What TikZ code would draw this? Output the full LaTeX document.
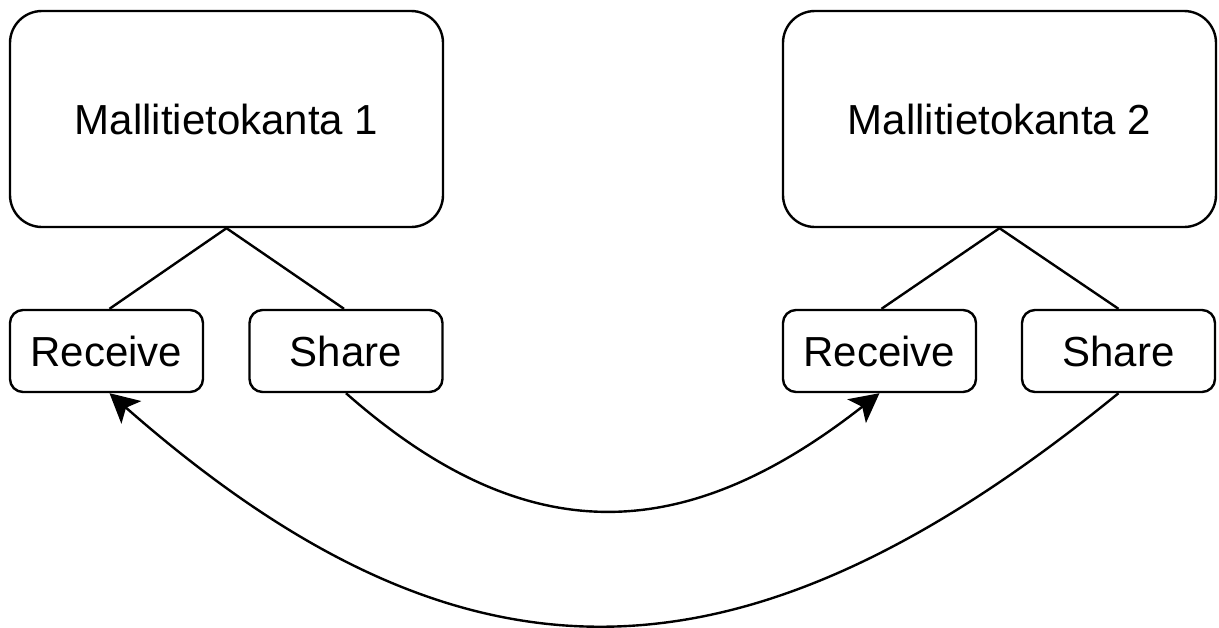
\documentclass[tikz,border=0pt]{standalone}
\usepackage{fontspec}
\setmainfont{Liberation Sans}
\usetikzlibrary{arrows.meta}
\begin{document}
\begin{tikzpicture}[x=1pt,y=-1pt,
  bigbox/.style={draw=black, line width=2.4pt, rounded corners=32pt, minimum width=433pt, minimum height=216pt, inner sep=0pt, font=\fontsize{42}{50}\selectfont},
  smallbox/.style={draw=black, line width=2.4pt, rounded corners=13pt, minimum width=193pt, minimum height=82pt, inner sep=0pt, font=\fontsize{42}{50}\selectfont},
  link/.style={draw=black, line width=2.4pt},
  arr/.style={draw=black, line width=2.4pt, -{Stealth[length=29pt, width=30pt, inset=7pt]}}
]
\useasboundingbox (0,0) rectangle (1219,627);
\node[bigbox] (m1) at (226.5,119) {Mallitietokanta 1};
\node[bigbox] (m2) at (999.5,119) {Mallitietokanta 2};
\node[smallbox] (r1) at (106.5,351) {Receive};
\node[smallbox] (s1) at (346,351) {Share};
\node[smallbox] (r2) at (879.5,351) {Receive};
\node[smallbox] (s2) at (1118.5,351) {Share};
\draw[link] (m1.south) -- ([xshift=3pt]r1.north);
\draw[link] (m1.south) -- ([xshift=-2pt]s1.north);
\draw[link] (m2.south) -- ([xshift=2pt]r2.north);
\draw[link] (m2.south) -- (s2.north);
\draw[arr] (s1.south) .. controls +(177,156) and +(-199,156) .. (r2.south);
\draw[arr] (s2.south) .. controls +(-379,309) and +(352,309) .. ([xshift=3pt]r1.south);
\end{tikzpicture}
\end{document}
